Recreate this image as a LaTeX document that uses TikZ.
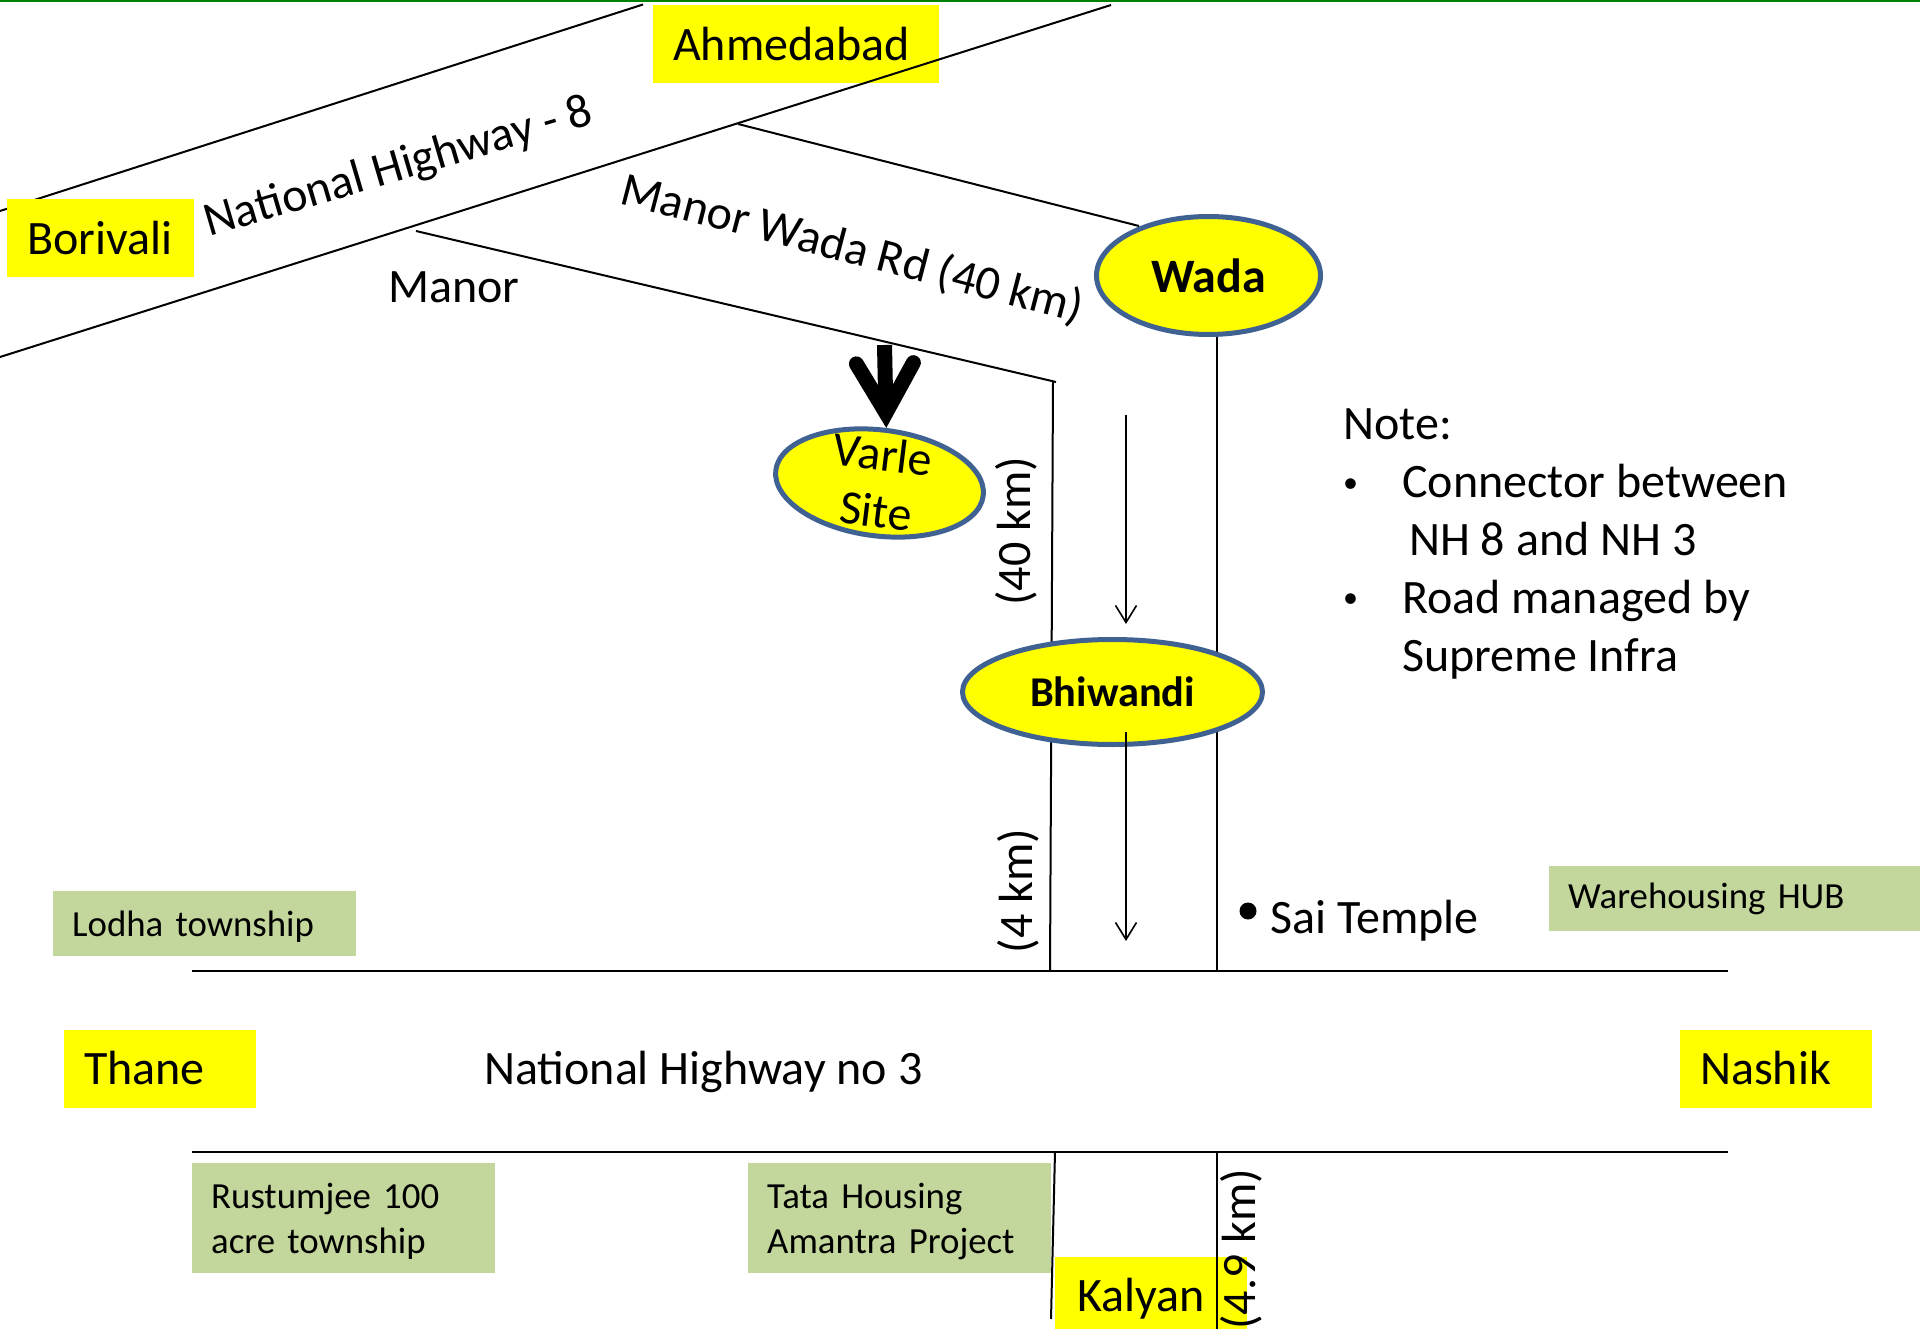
\documentclass[tikz,border=0pt]{standalone}
\usepackage{fontspec}
\setmainfont{Carlito}
\usetikzlibrary{shapes.geometric,arrows.meta}
\definecolor{plateyellow}{HTML}{FFFF00}
\definecolor{plategreen}{HTML}{C3D69B}
\definecolor{ringblue}{HTML}{3F6293}
\definecolor{topgreen}{HTML}{008000}
\newcommand{\mainfs}{\fontsize{48}{58}\selectfont}
\newcommand{\smallfs}{\fontsize{36.8}{45}\selectfont}
\newcommand{\notebullet}{\raisebox{5.5pt}{\fontsize{30}{30}\selectfont •}}
\tikzset{
  road/.style={draw=black,line width=2pt},
  city/.style={anchor=north west,fill=plateyellow,minimum height=78pt,inner ysep=0pt,inner xsep=20pt,align=left,font=\mainfs,text height=42pt,text depth=10pt},
  project/.style={anchor=north west,fill=plategreen,inner ysep=0pt,inner xsep=19pt,align=left,font=\smallfs},
  town/.style={shape=ellipse,draw=ringblue,line width=5pt,fill=plateyellow,inner sep=0pt},
  caption/.style={anchor=base west,inner sep=0pt,font=\mainfs},
  thinarrow/.style={draw=black,line width=1.6pt,-{Straight Barb[length=17pt,width=21pt]}},
}
\begin{document}
\begin{tikzpicture}[x=1pt,y=-1pt]
\useasboundingbox (0,0) rectangle (1920,1329);
\clip (0,0) rectangle (1920,1329);
\fill[white] (0,0) rectangle (1920,1329);
% end points
\coordinate (topL) at (0,1);
\coordinate (topR) at (1920,1);
\coordinate (nhUa) at (0,211);
\coordinate (nhUb) at (643,4.5);
\coordinate (nhLa) at (0,357);
\coordinate (nhLb) at (1111,5);
\coordinate (mwA) at (738,124);
\coordinate (mwB) at (1139,226);
\coordinate (mnA) at (416,231);
\coordinate (mnB) at (1056,382);
\coordinate (vlA) at (1053,382);
\coordinate (vlB) at (1050,971);
\coordinate (vrA) at (1216.6,320);
\coordinate (vrB) at (1216.6,971);
\coordinate (nhtA) at (192,971);
\coordinate (nhtB) at (1728,971);
\coordinate (nhbA) at (192,1152);
\coordinate (nhbB) at (1728,1152);
\coordinate (kaA) at (1055,1152);
\coordinate (kaB) at (1051,1319);
\coordinate (kbA) at (1216.7,1152);
\coordinate (kbB) at (1216.7,1329);
\coordinate (arAa) at (1126,415);
\coordinate (arAb) at (1126,624);
\coordinate (arBa) at (1126,732);
\coordinate (arBb) at (1126,941);
\coordinate (thick) at (884.5,345);
% roads
\draw[draw=topgreen,line width=2pt] (topL) -- (topR);
\draw[road] (nhUa) -- (nhUb);
\draw[road] (mwA) -- (mwB);
\draw[road] (mnA) -- (mnB);
\draw[road] (vlA) -- (vlB);
\draw[road] (vrA) -- (vrB);
\draw[road] (nhtA) -- (nhtB);
\draw[road] (nhbA) -- (nhbB);
\draw[road] (kaA) -- (kaB);
% plates
\node[project,minimum width=303pt,minimum height=65pt,text width=265pt,text height=33pt,text depth=8pt] (lodha) at (53,891) {Lodha township};
\node[project,minimum width=371pt,minimum height=65pt,text width=333pt,text height=29pt,text depth=8pt] (hub) at (1549,865.5) {Warehousing HUB};
\node[project,minimum width=303pt,minimum height=110pt,text width=265pt] (rustum) at (192,1163) {\rule{0pt}{31pt}Rustumjee 100\\acre township};
\node[project,minimum width=303pt,minimum height=110pt,text width=265pt] (tata) at (748,1163) {\rule{0pt}{31pt}Tata Housing\\Amantra Project};
\node[city,minimum width=286pt,text width=246pt] (ahm) at (653,5) {Ahmedabad};
\node[city,minimum width=187pt,text width=147pt] (bor) at (7,199) {Borivali};
\node[city,minimum width=192pt,text width=152pt] (tha) at (64,1029.5) {Thane};
\node[city,minimum width=192pt,text width=152pt] (nas) at (1680,1029.5) {Nashik};
\node[city,minimum width=192pt,inner xsep=22pt,text width=148pt] (kal) at (1055,1256.5) {Kalyan};
\draw[road] (nhLa) -- (nhLb);
\draw[road] (kbA) -- (kbB);
% towns
\node[town,minimum width=224pt,minimum height=118pt,font=\fontsize{48}{58}\selectfont\bfseries] (wada) at (1208.5,275.5) {Wada};
\node[town,minimum width=300pt,minimum height=105pt,font=\fontsize{42.4}{50}\selectfont\bfseries] (bhi) at (1112.5,692) {Bhiwandi};
\node[town,minimum width=209pt,minimum height=106pt,rotate=-7,font=\fontsize{48}{57}\selectfont] (varle) at (879.5,483) {\makebox[0pt]{\smash{\raisebox{-11pt}{\begin{tabular}{@{}c@{}}Varle\\Site\end{tabular}}}}};
% arrows
\draw[thinarrow] (arAa) -- (arAb);
\draw[thinarrow] (arBa) -- (arBb);
\draw[draw=black,line width=15pt,-{Straight Barb[length=49.6pt,width=57pt,line width=15pt,line cap=round,line join=miter]}] (thick) -- (varle.north);
% captions
\node[caption,rotate=16.4] (nh8) at (209,237) {National Highway - 8};
\node[caption,rotate=-14.6] (mwr) at (618,203) {Manor Wada Rd (40 km)};
\node[caption] (manor) at (388,303) {Manor};
\node[caption,rotate=90] (kmA) at (1030,606) {(40 km)};
\node[caption,rotate=90] (kmB) at (1032,953.5) {(4 km)};
\node[caption,rotate=90] (kmC) at (1255,1330) {(4.9 km)};
\node[caption] (nh3) at (484,1084) {National Highway no 3};
\node[caption] (sai) at (1270,933) {Sai Temple};
\node[fill=black,shape=circle,minimum size=17pt,inner sep=0pt] (saidot) at (1248,911) {};
\node[anchor=north west,inner sep=0pt,align=left,font=\fontsize{48}{58}\selectfont] (note) at (1343,408.5) {Note:\\
\makebox[59pt][l]{\notebullet}Connector between\\
\makebox[66pt][l]{}NH 8 and NH 3\\
\makebox[59pt][l]{\notebullet}Road managed by\\
\makebox[59pt][l]{}Supreme Infra};
\end{tikzpicture}
\end{document}
